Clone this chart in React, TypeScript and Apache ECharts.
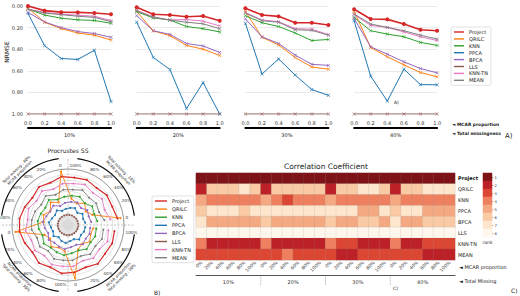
import React, { useEffect, useRef } from 'react';
import * as echarts from 'echarts';

const FONT = 'DejaVu Sans';
const methods = ['Project', 'QRILC', 'KNN', 'PPCA', 'BPCA', 'LLS', 'KNN-TN', 'MEAN'];
const colors = ['#d62728', '#ff7f0e', '#2ca02c', '#1f77b4', '#9467bd', '#8c564b', '#e377c2', '#7f7f7f'];
const totalMissing = ['10%', '20%', '30%', '40%'];
const mcarX = [0, 0.2, 0.4, 0.6, 0.8, 1.0];
const mcarPct = ['0%', '20%', '40%', '60%', '80%', '100%'];
const polarTickLabels = ['0', '20%', '40%', '60%', '80%', '100%'];
const polarQuadrants = ['10%', '40%', '30%', '20%'];
const rankLabels = ['1', '2', '3', '4', '5', '6', '7', '8'];
const rankColors = ['#7d1217', '#bd2128', '#dc4733', '#ee8060', '#f5a982', '#f9caa3', '#fde6cc', '#fff6ec'];

// NRMSE, rows follow `methods`
const nrmse10 = [
  [0.0, 0.043, 0.057, 0.059, 0.065, 0.077],
  [0.02, 0.15, 0.21, 0.25, 0.27, 0.315],
  [0.028, 0.084, 0.113, 0.128, 0.134, 0.16],
  [0.068, 0.368, 0.486, 0.495, 0.41, 0.885],
  [0.06, 0.148, 0.2, 0.237, 0.255, 0.29],
  [1, 1, 1, 1, 1, 1],
  [0.03, 0.06, 0.075, 0.085, 0.095, 0.135],
  [0.03, 0.065, 0.08, 0.095, 0.105, 0.145],
];
const nrmse20 = [
  [0.012, 0.077, 0.084, 0.099, 0.093, 0.136],
  [0.05, 0.23, 0.275, 0.365, 0.4, 0.458],
  [0.053, 0.11, 0.13, 0.19, 0.21, 0.24],
  [0.15, 0.477, 0.588, 0.95, 0.709, 1.0],
  [0.09, 0.229, 0.263, 0.347, 0.37, 0.43],
  [1, 1, 1, 1, 1, 1],
  [0.04, 0.1, 0.13, 0.125, 0.14, 0.185],
  [0.045, 0.105, 0.13, 0.15, 0.165, 0.21],
];
const nrmse30 = [
  [0.02, 0.084, 0.096, 0.155, 0.155, 0.176],
  [0.05, 0.29, 0.36, 0.477, 0.565, 0.585],
  [0.09, 0.155, 0.19, 0.25, 0.32, 0.31],
  [0.16, 0.63, 0.49, 0.64, 0.774, 0.827],
  [0.12, 0.285, 0.347, 0.455, 0.54, 0.55],
  [1, 1, 1, 1, 1, 1],
  [0.06, 0.13, 0.145, 0.21, 0.215, 0.265],
  [0.065, 0.136, 0.15, 0.22, 0.225, 0.27],
];
const nrmse40 = [
  [0.03, 0.12, 0.124, 0.167, 0.22, 0.229],
  [0.05, 0.384, 0.47, 0.545, 0.616, 0.656],
  [0.105, 0.229, 0.26, 0.285, 0.337, 0.365],
  [0.136, 0.65, 0.88, 0.585, 0.728, 0.73],
  [0.115, 0.378, 0.446, 0.517, 0.579, 0.619],
  [1, 1, 1, 1, 1, 1],
  [0.08, 0.18, 0.198, 0.24, 0.285, 0.32],
  [0.074, 0.167, 0.198, 0.229, 0.27, 0.306],
];
const nrmseByTotal = [nrmse10, nrmse20, nrmse30, nrmse40];

// Procrustes SS (radial level), quadrants in polarQuadrants order
const procrustes = [
  [49, 47, 48, 46, 48, 47, 48, 45, 47, 44, 46, 48, 48, 46, 44, 47, 45, 48, 47, 45, 48, 46, 47, 46],
  [52, 26, 22, 27, 23, 26, 53, 24, 28, 22, 26, 24, 52, 25, 22, 27, 24, 26, 53, 26, 23, 27, 24, 25],
  [29, 28, 30, 27, 30, 29, 28, 27, 31, 28, 29, 30, 29, 27, 30, 28, 29, 30, 28, 27, 30, 28, 29, 28],
  [17, 16, 18, 15, 18, 17, 16, 15, 18, 16, 17, 19, 17, 16, 18, 15, 17, 18, 16, 15, 18, 16, 17, 17],
  [23, 22, 24, 21, 24, 23, 22, 20, 24, 22, 23, 25, 23, 21, 24, 22, 23, 24, 22, 21, 24, 22, 23, 22],
  [10, 10, 10, 10, 10, 10, 10, 10, 10, 10, 10, 10, 10, 10, 10, 10, 10, 10, 10, 10, 10, 10, 10, 10],
  [42, 39, 42, 40, 43, 41, 41, 38, 42, 39, 42, 40, 42, 39, 41, 38, 42, 41, 41, 38, 41, 39, 42, 40],
  [36, 33, 35, 34, 37, 35, 35, 32, 36, 33, 35, 36, 36, 33, 35, 32, 36, 35, 35, 33, 36, 34, 36, 35],
];

// Correlation coefficient ranks, rows follow `methods`, 24 columns
const ranks = [
  [1, 1, 1, 1, 1, 1, 1, 1, 1, 1, 1, 1, 1, 1, 1, 1, 1, 1, 1, 1, 1, 1, 1, 1],
  [2, 6, 6, 6, 7, 6, 2, 6, 6, 6, 6, 6, 2, 6, 6, 7, 7, 6, 2, 6, 6, 7, 7, 7],
  [5, 4, 4, 4, 4, 4, 5, 4, 3, 4, 4, 4, 5, 4, 4, 4, 4, 4, 5, 4, 4, 4, 4, 4],
  [6, 7, 7, 7, 6, 7, 7, 7, 7, 7, 7, 7, 7, 7, 7, 5, 5, 7, 6, 7, 7, 5, 5, 5],
  [7, 5, 5, 5, 5, 5, 6, 5, 5, 5, 5, 5, 6, 5, 5, 6, 6, 5, 7, 5, 5, 6, 6, 6],
  [8, 8, 8, 8, 8, 8, 8, 8, 8, 8, 8, 8, 8, 8, 8, 8, 8, 8, 8, 8, 8, 8, 8, 8],
  [4, 2, 2, 2, 2, 2, 4, 2, 2, 2, 2, 2, 4, 3, 3, 2, 2, 2, 4, 2, 2, 3, 3, 3],
  [3, 3, 3, 3, 3, 3, 3, 3, 4, 3, 3, 3, 3, 2, 2, 3, 3, 3, 3, 3, 3, 2, 2, 2],
];

const XMARK = 'path://M0,1L1,0L5,4L9,0L10,1L6,5L10,9L9,10L5,6L1,10L0,9L4,5Z';

function buildOption(): any {
  const gridLefts = [28, 136.7, 245.4, 354.1];
  const grids: any[] = gridLefts.map((l) => ({ left: l, top: 6, width: 83, height: 108 }));
  grids.push({ left: 196, top: 173, width: 259, height: 87 });
  grids.push({ left: 483, top: 173, width: 9, height: 64 });

  const xAxes: any[] = [];
  const yAxes: any[] = [];
  const series: any[] = [];

  gridLefts.forEach((_, g) => {
    xAxes.push({
      type: 'value', gridIndex: g, min: 0, max: 1, interval: 0.2,
      axisLine: { show: false }, axisTick: { show: false }, splitLine: { show: false },
      axisLabel: { fontSize: 5, margin: 6, color: '#333', fontFamily: FONT, formatter: (v: number) => v.toFixed(1) },
    });
    xAxes.push({
      type: 'category', gridIndex: g, data: [totalMissing[g]], position: 'bottom', offset: 14,
      axisLine: { lineStyle: { color: '#000', width: 2 } }, axisTick: { show: false },
      axisLabel: { fontSize: 5, margin: 4, color: '#222', fontFamily: FONT },
    });
    yAxes.push({
      type: 'value', gridIndex: g, inverse: true, min: 0, max: 1, interval: 0.2,
      axisLine: { show: false }, axisTick: { show: false },
      splitLine: { lineStyle: { color: '#e4e4e4', width: 0.8 } },
      axisLabel: { show: g === 0, fontSize: 5, margin: 5, color: '#333', fontFamily: FONT, formatter: (v: number) => v.toFixed(2) },
    });
    methods.forEach((m, mi) => {
      series.push({
        type: 'line', name: m, xAxisIndex: 2 * g, yAxisIndex: g,
        data: mcarX.map((x, i) => [x, nrmseByTotal[g][mi][i]]),
        symbol: mi === 0 ? 'circle' : XMARK, symbolSize: mi === 0 ? 4 : 3.5,
        lineStyle: { width: mi === 0 ? 1.6 : 1, color: colors[mi] },
        itemStyle: { color: colors[mi] }, z: mi === 0 ? 5 : 3, silent: true,
      });
    });
  });

  const polarCats: string[] = [];
  polarQuadrants.forEach((q) => polarTickLabels.forEach((t) => polarCats.push(q + '|' + t)));
  methods.forEach((m, mi) => {
    series.push({
      type: 'line', name: m, coordinateSystem: 'polar', polarIndex: 0,
      data: procrustes[mi].map((r, i) => [r, polarCats[i]]),
      symbol: 'circle', symbolSize: mi === 5 ? 1.8 : 2,
      lineStyle: { width: mi === 0 ? 1.2 : 0.9, color: colors[mi], type: mi === 5 ? 'dotted' : 'solid' },
      itemStyle: { color: colors[mi] }, z: 3, silent: true,
    });
  });

  const heatCats: string[] = [];
  totalMissing.forEach((t) => mcarPct.forEach((p) => heatCats.push(t + '|' + p)));
  xAxes.push({
    type: 'category', gridIndex: 4, data: heatCats,
    axisLine: { show: false }, axisTick: { show: false }, splitLine: { show: false },
    axisLabel: { interval: 0, rotate: 45, fontSize: 4.5, margin: 2, color: '#333', fontFamily: FONT, formatter: (v: string) => v.split('|')[1] },
  });
  xAxes.push({
    type: 'category', gridIndex: 4, data: totalMissing, position: 'bottom', offset: 15,
    axisLine: { lineStyle: { color: '#555', width: 1 } }, axisTick: { show: false },
    axisLabel: { fontSize: 5, margin: 4, color: '#333', fontFamily: FONT },
  });
  yAxes.push({
    type: 'category', gridIndex: 4, data: methods, inverse: true, position: 'right',
    axisLine: { show: false }, axisTick: { show: false },
    axisLabel: {
      fontSize: 5, margin: 3, color: '#222', fontFamily: FONT,
      formatter: (v: string) => (v === 'Project' ? '{b|' + v + '}' : v),
      rich: { b: { fontWeight: 'bold', fontSize: 5, fontFamily: FONT, color: '#111' } },
    },
  });
  xAxes.push({
    type: 'category', gridIndex: 5, data: ['rank'],
    axisLine: { show: false }, axisTick: { show: false },
    axisLabel: { fontSize: 4.5, margin: 3, color: '#333', fontFamily: FONT },
  });
  yAxes.push({
    type: 'category', gridIndex: 5, data: rankLabels, inverse: true, position: 'right',
    axisLine: { show: false }, axisTick: { show: true, length: 1.5, alignWithLabel: true, lineStyle: { color: '#666', width: 0.5 } },
    axisLabel: { fontSize: 3.8, margin: 2.5, color: '#333', fontFamily: FONT },
  });

  const heatData: any[] = [];
  ranks.forEach((row, ri) => row.forEach((v, ci) => heatData.push([ci, ri, v])));
  series.push({
    type: 'heatmap', xAxisIndex: 8, yAxisIndex: 4, data: heatData, silent: true,
    itemStyle: { borderColor: 'rgba(140,140,140,0.35)', borderWidth: 0.4 },
  });
  series.push({
    type: 'heatmap', xAxisIndex: 10, yAxisIndex: 5, silent: true,
    data: rankLabels.map((r, i) => [0, i, Number(r)]),
    itemStyle: { borderWidth: 0 },
  });
  const heatIdx = series.length - 2;

  const legendBase = {
    data: methods, orient: 'vertical', icon: 'rect', itemHeight: 1.4, selectedMode: false,
    textStyle: { fontSize: 5, lineHeight: 6, color: '#222', fontFamily: FONT },
    borderColor: '#cfcfcf', borderWidth: 0.6, borderRadius: 2, backgroundColor: '#fff',
  };

  const cx = 68, cy = 225;
  const graphic: any[] = [];
  const txt = (x: number, y: number, text: string, size: number, extra: any = {}, rotation = 0) =>
    graphic.push({
      type: 'text', x, y, rotation, silent: true,
      style: { text, fontSize: size, fontFamily: FONT, fill: '#222', align: 'left', verticalAlign: 'middle', ...extra },
    });

  txt(6, 52, 'NRMSE', 6, { align: 'center' }, Math.PI / 2);
  txt(452, 124, '◄ MCAR proportion', 4.4, { fontWeight: 'bold' });
  txt(452, 133, '◄ Total missingness', 4.4, { fontWeight: 'bold' });
  txt(505, 136, 'A)', 7);
  txt(394, 102, 'A)', 4.5);

  txt(cx, 150, 'Procrustes SS', 6, { align: 'center' });
  graphic.push({ type: 'line', silent: true, shape: { x1: cx - 66, y1: cy, x2: cx + 66, y2: cy }, style: { stroke: '#9a9a9a', lineWidth: 0.6, lineDash: [2, 1.5] } });
  graphic.push({ type: 'line', silent: true, shape: { x1: cx, y1: cy - 66, x2: cx, y2: cy + 66 }, style: { stroke: '#9a9a9a', lineWidth: 0.6, lineDash: [2, 1.5] } });
  polarQuadrants.forEach((q, k) => {
    const a0 = (90 * k + 8) * Math.PI / 180;
    const a1 = (90 * k + 82) * Math.PI / 180;
    graphic.push({ type: 'arc', silent: true, shape: { cx, cy, r: 67, startAngle: -a1, endAngle: -a0, clockwise: true }, style: { stroke: '#111', lineWidth: 1.2, fill: null } });
    const right = k === 0 || k === 3;
    const top = k < 2;
    const tx = cx + (right ? 52 : -50);
    const ty = cy + (top ? -54 : 51);
    const label = top ? 'Total missing : ' + q + '\nMCAR proportion' : 'MCAR proportion\nTotal missing : ' + q;
    const rot = k === 0 || k === 2 ? -Math.PI / 4 : Math.PI / 4;
    txt(tx, ty, label, 3.9, { align: 'center', lineHeight: 4.6 }, rot);
  });
  txt(154, 292, 'B)', 6);

  txt(326, 166, 'Correlation Coefficient', 7.5, { align: 'center' });
  txt(459, 267, '◄ MCAR proportion', 5);
  txt(459, 281, '◄ Total Missing', 5);
  txt(393, 288, 'C)', 4.5);
  txt(511, 290, 'C)', 6);
  [1, 2, 3].forEach((k) => {
    const x = 196 + (259 * k) / 4;
    graphic.push({ type: 'line', silent: true, shape: { x1: x, y1: 275, x2: x, y2: 286 }, style: { stroke: '#888', lineWidth: 0.6, lineDash: [1.5, 1.2] } });
  });

  return {
    animation: false,
    backgroundColor: '#fff',
    textStyle: { fontFamily: FONT },
    grid: grids,
    xAxis: xAxes,
    yAxis: yAxes,
    polar: { center: [cx, cy], radius: 56 },
    angleAxis: {
      type: 'category', polarIndex: 0, data: polarCats, startAngle: 0, clockwise: false, boundaryGap: true,
      axisLine: { lineStyle: { color: '#8a8a8a', width: 0.8 } }, axisTick: { show: false },
      splitLine: { show: false },
      axisLabel: { fontSize: 4.2, margin: 2, color: '#333', fontFamily: FONT, interval: 0, formatter: (v: string) => v.split('|')[1] },
    },
    radiusAxis: {
      polarIndex: 0, min: 0, max: 55, interval: 5.5,
      axisLine: { show: false }, axisTick: { show: false }, axisLabel: { show: false },
      splitLine: { show: true, lineStyle: { color: '#c9c9c9', width: 0.5 } },
      splitArea: {
        show: true,
        areaStyle: { color: ['#d9d9d9', '#e3e3e3', 'rgba(0,0,0,0)', 'rgba(0,0,0,0)', 'rgba(0,0,0,0)', 'rgba(0,0,0,0)', 'rgba(0,0,0,0)', 'rgba(0,0,0,0)', 'rgba(0,0,0,0)', 'rgba(0,0,0,0)'] },
      },
    },
    legend: [
      { ...legendBase, left: 451, top: 27, itemWidth: 10, itemGap: 0.9, padding: [2, 3, 2, 3] },
      { ...legendBase, left: 152, top: 196, itemWidth: 12, itemGap: 2.1, padding: [2, 3, 2, 3] },
    ],
    visualMap: {
      type: 'continuous', min: 1, max: 8, show: false, seriesIndex: [heatIdx, heatIdx + 1],
      inRange: { color: rankColors },
    },
    series,
    graphic,
  };
}

export default function App() {
  const ref = useRef<HTMLDivElement>(null);
  useEffect(() => {
    if (!ref.current) return;
    const chart = echarts.init(ref.current, null, { renderer: 'svg' });
    chart.setOption(buildOption());
    return () => chart.dispose();
  }, []);
  return <div ref={ref} style={{ position: 'absolute', left: 0, top: 0, width: 520, height: 296 }} />;
}
